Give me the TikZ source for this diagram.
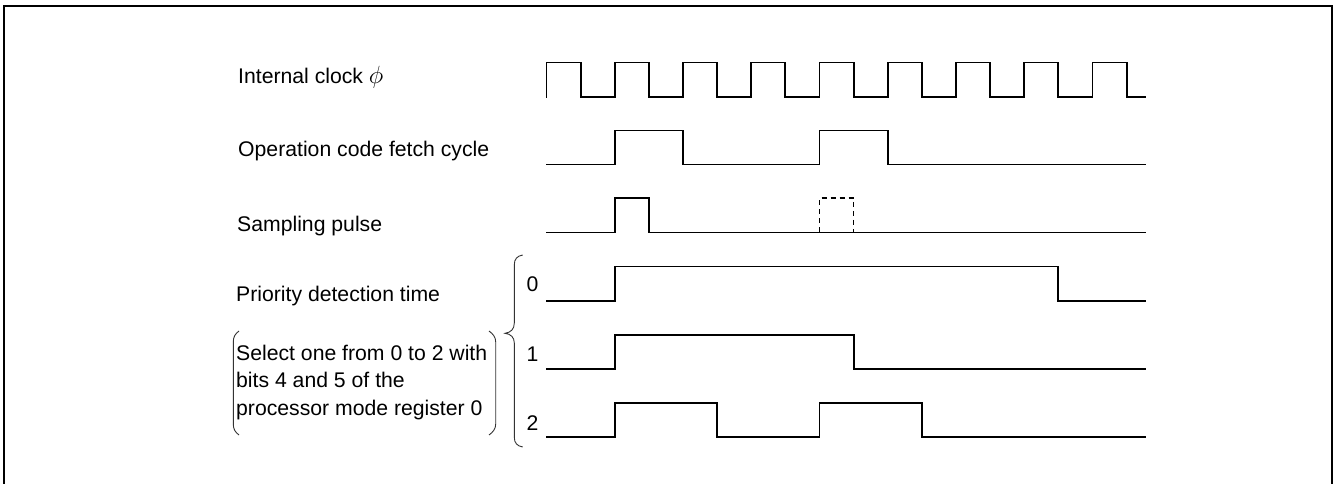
\documentclass[tikz,border=0pt]{standalone}
\usepackage{fontspec}
\setmainfont{Liberation Sans}
\begin{document}
\begin{tikzpicture}[x=1pt,y=-1pt,
  sig/.style={line width=1.8pt,line join=miter,line cap=rect},
  dsig/.style={line width=1.6pt,dash pattern=on 5pt off 4pt},
  brk/.style={line width=0.9pt,black!80},
  frm/.style={line width=2.6pt},
  lbl/.style={anchor=base west,inner sep=0pt,font=\fontsize{21.2}{27.5}\selectfont},
  num/.style={anchor=base west,inner sep=0pt,font=\fontsize{21.2}{27.5}\selectfont}]
\useasboundingbox (0,0) rectangle (1335,484);
\def\xo{546.5}
\def\hx{34.125}
\def\xe{1145}
% frame
\draw[frm] (4,495) -- (4,6) -- (1332,6) -- (1332,495);
% labels
\node[lbl] (lclk) at (238,83.5) {Internal clock {\fontsize{23}{27}\selectfont$\phi$}};
\node[lbl] (lfetch) at (238,156.7) {Operation code fetch cycle};
\node[lbl] (lsamp) at (237,231.7) {Sampling pulse};
\node[lbl] (lprio) at (236,301.5) {Priority detection time};
\node[lbl] (lsel1) at (236,360) {Select one from 0 to 2 with};
\node[lbl] (lsel2) at (236,387.5) {bits 4 and 5 of the};
\node[lbl] (lsel3) at (236,415) {processor mode register 0};
\node[num] (n0) at (526.5,291.5) {0};
\node[num] (n1) at (526.5,361) {1};
\node[num] (n2) at (526.5,430) {2};
% clock
\draw[sig] (\xo,97)
  \foreach \k in {0,...,7} {
    -- ({\xo+2*\k*\hx},62.5) -- ({\xo+(2*\k+1)*\hx},62.5)
    -- ({\xo+(2*\k+1)*\hx},97) -- ({\xo+(2*\k+2)*\hx},97) }
  -- ({\xo+16*\hx},62.5) -- ({\xo+17*\hx},62.5) -- ({\xo+17*\hx},97) -- (\xe,97);
% operation code fetch cycle
\draw[sig] (\xo,164.5) -- ({\xo+2*\hx},164.5) -- ({\xo+2*\hx},130.5) -- ({\xo+4*\hx},130.5)
  -- ({\xo+4*\hx},164.5) -- ({\xo+8*\hx},164.5) -- ({\xo+8*\hx},130.5) -- ({\xo+10*\hx},130.5)
  -- ({\xo+10*\hx},164.5) -- (\xe,164.5);
% sampling pulse
\draw[sig] (\xo,232.5) -- ({\xo+2*\hx},232.5) -- ({\xo+2*\hx},198) -- ({\xo+3*\hx},198)
  -- ({\xo+3*\hx},232.5) -- (\xe,232.5);
\draw[dsig] ({\xo+8*\hx},232) -- ({\xo+8*\hx},198) -- ({\xo+9*\hx},198) -- ({\xo+9*\hx},232);
% priority 0
\draw[sig] (\xo,301) -- ({\xo+2*\hx},301) -- ({\xo+2*\hx},266.5) -- ({\xo+15*\hx},266.5)
  -- ({\xo+15*\hx},301) -- (\xe,301);
% priority 1
\draw[sig] (\xo,369) -- ({\xo+2*\hx},369) -- ({\xo+2*\hx},335) -- ({\xo+9*\hx},335)
  -- ({\xo+9*\hx},369) -- (\xe,369);
% priority 2
\draw[sig] (\xo,437) -- ({\xo+2*\hx},437) -- ({\xo+2*\hx},403) -- ({\xo+5*\hx},403)
  -- ({\xo+5*\hx},437) -- ({\xo+8*\hx},437) -- ({\xo+8*\hx},403) -- ({\xo+11*\hx},403)
  -- ({\xo+11*\hx},437) -- (\xe,437);
% brace
\draw[brk] (522.7,255) .. controls (517,256) and (514.3,259) .. (514.3,265)
  -- (514.3,323) .. controls (514.3,329) and (511,332.5) .. (505,333.3)
  .. controls (511,334) and (514.3,337.5) .. (514.3,343)
  -- (514.3,437) .. controls (514.3,443) and (517,446) .. (522.7,447);
% parentheses
\draw[brk] (239,331) .. controls (235,334) and (233.3,337) .. (233.3,342)
  -- (233.3,424) .. controls (233.3,429) and (235,432) .. (239,435);
\draw[brk] (489,331) .. controls (493,334) and (495.7,337) .. (495.7,342)
  -- (495.7,424) .. controls (495.7,429) and (493,432) .. (489,435);
\end{tikzpicture}
\end{document}
